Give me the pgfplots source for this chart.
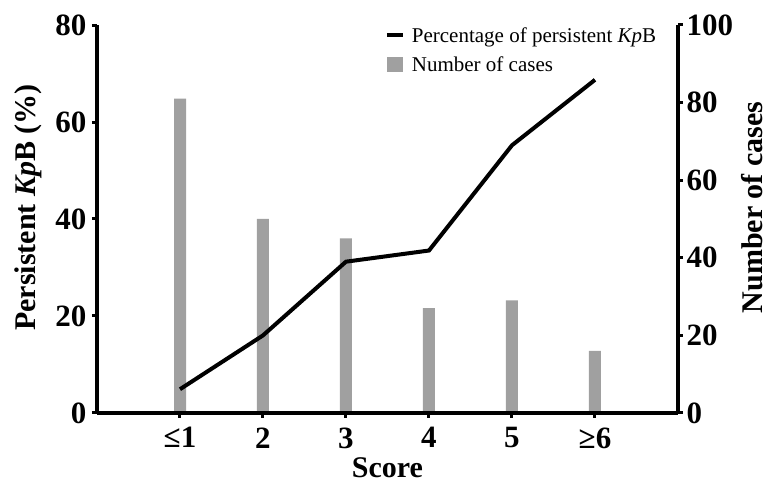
\documentclass[border=0pt]{standalone}
\usepackage{fontspec}
\setmainfont{Liberation Serif}
\usepackage{pgfplots}
\pgfplotsset{compat=1.18}
\definecolor{bargray}{RGB}{160,160,160}

\pgfplotsset{
  base/.style={
    scale only axis, width=581pt, height=388pt,
    at={(0pt,0pt)}, anchor=south west,
    xmin=0, xmax=7, clip=false,
    axis line style={line width=4.5pt},
    tick style={line width=3pt, black},
    major tick length=5pt,
    tick align=outside,
    tick label style={font=\fontsize{31}{36}\selectfont\bfseries},
    label style={font=\fontsize{30}{36}\selectfont\bfseries},
    /pgf/number format/assume math mode=true,
  }
}

\begin{document}
\begin{tikzpicture}
\useasboundingbox (-97pt,-73pt) rectangle (672pt,413pt);

% right axis: number of cases (bars)
\begin{axis}[base,
  ymin=0, ymax=100, ytick={0,20,...,100},
  axis y line*=right, axis x line=none,
  ylabel={Number of cases},
  ylabel style={at={(axis description cs:1.127,0.53)}, anchor=center},
]
\addplot[ybar, bar width=12pt, fill=bargray, draw=none]
  coordinates {(1,81) (2,50) (3,45) (4,27) (5,29) (6,16)};
\end{axis}

% left axis: percentage (line)
\begin{axis}[base,
  ymin=0, ymax=80, ytick={0,20,...,80},
  axis y line*=left, axis x line*=bottom,
  xtick={1,...,6},
  xticklabels={\textbf{≤1},\textbf{2},\textbf{3},\textbf{4},\textbf{5},\textbf{≥6}},
  xticklabel style={yshift=-6pt},
  yticklabel style={xshift=-2pt},
  xlabel={Score},
  xlabel style={at={(axis description cs:0.5,0)}, yshift=-55pt, anchor=center},
  ylabel={Persistent \textit{Kp}B (\%)},
  ylabel style={at={(axis description cs:-0.119,0.53)}, anchor=center},
  legend style={draw=none, fill=none, at={(0.49,1.005)}, anchor=north west,
    font=\fontsize{21}{25}\selectfont, row sep=9pt, cells={anchor=west}},
]
\addplot[black, line width=4pt,
  legend image code/.code={\draw[black, line width=4pt] (0pt,0pt) -- (16pt,0pt);
    \path (21pt,0pt);}]
  coordinates {(1,4.9) (2,16.0) (3,31.2) (4,33.5) (5,55.2) (6,68.7)};
\addlegendimage{legend image code/.code={\fill[bargray] (0pt,-7pt) rectangle (15pt,7pt);
    \path (21pt,0pt);}}
\legend{Percentage of persistent \textit{Kp}B, Number of cases}
\end{axis}
\end{tikzpicture}
\end{document}
